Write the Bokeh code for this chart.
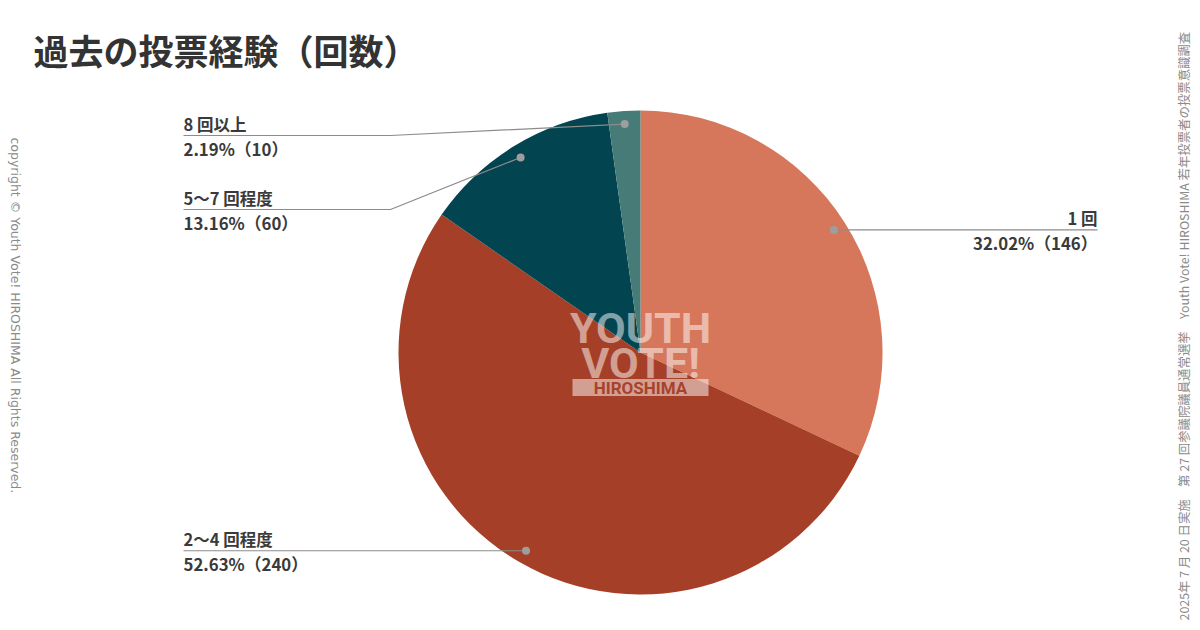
import math
import numpy as np
from bokeh.plotting import figure
from bokeh.models import Range1d, ColumnDataSource
from bokeh.core.properties import value
from bokeh.embed import file_html
from bokeh.resources import INLINE

# ---------------- data ----------------
title = "過去の投票経験（回数）"
categories = ["1 回", "2〜4 回程度", "5〜7 回程度", "8 回以上"]
counts = [146, 240, 60, 10]
colors = ["#D6765A", "#A63F27", "#024450", "#467B78"]
left_note = "copyright © Youth Vote! HIROSHIMA  All Rights Reserved."
right_note = "2025年 7 月 20 日実施　第 27 回参議院議員通常選挙　Youth Vote! HIROSHIMA 若年投票者の投票意識調査"

# ---------------- layout ----------------
W, H = 1200, 630


def Y(y):
    return H - y


FONT = "Noto Sans CJK JP"
p = figure(width=1192, height=622, x_range=Range1d(0, 1192), y_range=Range1d(8, 630),
           output_backend="svg", toolbar_location=None, min_border=0,
           x_axis_location=None, y_axis_location=None)
p.grid.visible = False
p.outline_line_color = None
p.background_fill_color = "white"
p.border_fill_color = "white"

# pie
cx, cy, R = 640, Y(352), 242
total = sum(counts)
fr = np.array(counts) / total
cum_after = np.cumsum(fr)
cum_before = cum_after - fr
start = math.pi / 2 - 2 * math.pi * cum_before
end = math.pi / 2 - 2 * math.pi * cum_after
src = ColumnDataSource(dict(start=start, end=end, color=colors))
p.wedge(x=cx, y=cy, radius=R, start_angle="start", end_angle="end", direction="clock",
        fill_color="color", line_color=None, source=src)

# dots
mid = (start + end) / 2
rd = 0.946 * R
dx = cx + rd * np.cos(mid)
dy = cy + rd * np.sin(mid)

# label layout: (text x, align, line y (ref px) or None -> dot y, bend x)
layout = [
    dict(x=1097, align="right", ly=None, bend=None),
    dict(x=183, align="left", ly=None, bend=None),
    dict(x=183, align="left", ly=209, bend=390),
    dict(x=183, align="left", ly=135, bend=390),
]

LINE_C = "#8c8c8c"
TXT_C = "#3a3a3a"
for i, cat in enumerate(categories):
    L = layout[i]
    if L["ly"] is None:
        line_y = dy[i]
        xs = [L["x"], dx[i]]
        ys = [line_y, line_y]
    else:
        line_y = Y(L["ly"])
        xs = [L["x"], L["bend"], dx[i]]
        ys = [line_y, line_y, dy[i]]
    p.line(xs, ys, line_color=LINE_C, line_width=1.2)
    pct = counts[i] / total * 100
    p.text(x=[L["x"]], y=[line_y + 12], text=[cat], text_align=L["align"],
           text_baseline="alphabetic", text_font=value(FONT), text_font_size="16.5px",
           text_font_style="bold", text_color=TXT_C)
    p.text(x=[L["x"]], y=[line_y - 13.5], text=[f"{pct:.2f}%（{counts[i]}）"],
           text_align=L["align"], text_baseline="alphabetic", text_font=value(FONT),
           text_font_size="16.8px", text_font_style="bold", text_color=TXT_C)

p.scatter(dx, dy, size=8, fill_color="#9e9e9e", line_color=None)

# watermark
p.text(x=[640], y=[Y(327)], text=["YOUTH"], text_align="center", text_baseline="alphabetic",
       text_font=value("Roboto"), text_font_size="43px", text_font_style="bold",
       text_color="white", text_alpha=0.5)
p.text(x=[640], y=[Y(362)], text=["VOTE!"], text_align="center", text_baseline="alphabetic",
       text_font=value("Roboto"), text_font_size="43px", text_font_style="bold",
       text_color="white", text_alpha=0.5)
p.rect(x=[640], y=[Y(387)], width=136, height=17, fill_color="white", fill_alpha=0.5,
       line_color=None)
p.text(x=[640], y=[Y(387.5)], text=["HIROSHIMA"], text_align="center", text_baseline="alphabetic",
       text_font=value("Roboto"), text_font_size="17px", text_font_style="bold",
       text_color="#A8432B")

# title
p.text(x=[33], y=[Y(48.5)], text=[title], text_align="left", text_baseline="middle",
       text_font=value(FONT), text_font_size="35px", text_font_style="bold",
       text_color="#333333")

# side notes
p.text(x=[15], y=[Y(137)], text=[left_note], angle=-math.pi / 2, text_align="left",
       text_baseline="middle", text_font=value("DejaVu Sans"), text_font_size="12.5px",
       text_color="#8a8a8a")
p.text(x=[1183], y=[Y(620)], text=[right_note], angle=math.pi / 2, text_align="left",
       text_baseline="middle", text_font=value(FONT), text_font_size="12.4px",
       text_color="#8a8a8a")

open("out.html", "w").write(file_html(p, INLINE))
